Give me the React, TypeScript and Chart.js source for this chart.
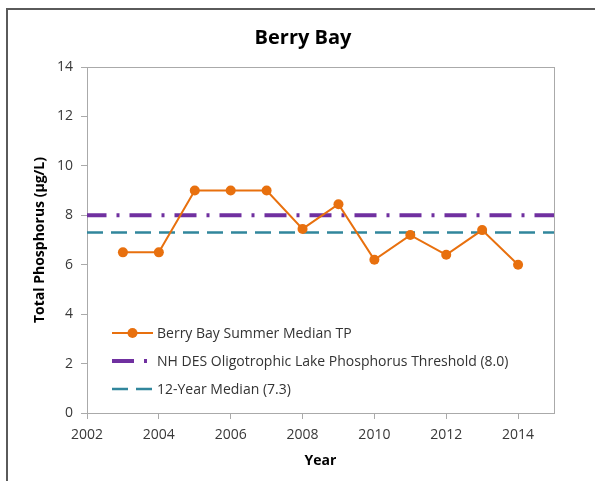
import React, { useEffect, useRef } from "react";
import { Chart, registerables } from "chart.js";

Chart.register(...registerables);

const chartTitle = "Berry Bay";
const xAxisTitle = "Year";
const yAxisTitle = "Total Phosphorus (µg/L)";

const years = [2003, 2004, 2005, 2006, 2007, 2008, 2009, 2010, 2011, 2012, 2013, 2014];
const summerMedianTP = [6.5, 6.5, 9.0, 9.0, 9.0, 7.45, 8.45, 6.2, 7.2, 6.4, 7.4, 6.0];

const thresholdValue = 8.0;
const twelveYearMedianValue = 7.3;

const xMin = 2002;
const xMax = 2015;
const xTickValues = [2002, 2004, 2006, 2008, 2010, 2012, 2014];
const yMin = 0;
const yMax = 14;
const yStep = 2;

const seriesLabels = [
  "Berry Bay Summer Median TP",
  "NH DES Oligotrophic Lake Phosphorus Threshold (8.0)",
  "12-Year Median (7.3)",
];

const FONT = "'Open Sans', 'Noto Sans', sans-serif";
const ORANGE = "#E8700E";
const PURPLE = "#7030A0";
const TEAL = "#31869C";
const FRAME_GRAY = "#AAAAAA";

const plotFramePlugin = {
  id: "plotFrame",
  beforeDatasetsDraw(chart: any) {
    const { ctx, chartArea } = chart;
    ctx.save();
    ctx.strokeStyle = FRAME_GRAY;
    ctx.lineWidth = 1;
    ctx.strokeRect(
      Math.round(chartArea.left) + 0.5,
      Math.round(chartArea.top) + 0.5,
      Math.round(chartArea.right - chartArea.left),
      Math.round(chartArea.bottom - chartArea.top)
    );
    ctx.restore();
  },
};

const insideLegendPlugin = {
  id: "insideLegend",
  afterDraw(chart: any) {
    const { ctx, chartArea } = chart;
    const rowOffsets = [80, 52, 24];
    const x0 = chartArea.left + 25;
    const x1 = chartArea.left + 66;
    ctx.save();
    chart.data.datasets.forEach((ds: any, i: number) => {
      const y = chartArea.bottom - rowOffsets[i];
      ctx.beginPath();
      ctx.strokeStyle = ds.borderColor;
      ctx.lineWidth = ds.borderWidth;
      ctx.lineCap = "butt";
      ctx.setLineDash(ds.borderDash || []);
      ctx.lineDashOffset = 0;
      ctx.moveTo(x0, y);
      ctx.lineTo(x1, y);
      ctx.stroke();
      ctx.setLineDash([]);
      if (ds.pointRadius > 0) {
        ctx.beginPath();
        ctx.fillStyle = ds.pointBackgroundColor;
        ctx.arc((x0 + x1) / 2, y, ds.pointRadius, 0, Math.PI * 2);
        ctx.fill();
      }
      ctx.fillStyle = "#333333";
      ctx.font = `14px ${FONT}`;
      ctx.textAlign = "left";
      ctx.textBaseline = "middle";
      ctx.fillText(ds.label, x1 + 4, y + 1);
    });
    ctx.restore();
  },
};

export default function App() {
  const canvasRef = useRef<HTMLCanvasElement | null>(null);

  useEffect(() => {
    if (!canvasRef.current) return;
    const chart = new Chart(canvasRef.current, {
      type: "line",
      data: {
        datasets: [
          {
            label: seriesLabels[0],
            data: years.map((yr, i) => ({ x: yr, y: summerMedianTP[i] })),
            borderColor: ORANGE,
            backgroundColor: ORANGE,
            pointBackgroundColor: ORANGE,
            pointBorderColor: ORANGE,
            borderWidth: 2,
            pointRadius: 5,
            pointBorderWidth: 0,
            tension: 0,
            order: 0,
          },
          {
            label: seriesLabels[1],
            data: [
              { x: xMin, y: thresholdValue },
              { x: xMax, y: thresholdValue },
            ],
            borderColor: PURPLE,
            backgroundColor: PURPLE,
            borderWidth: 4,
            borderDash: [22, 10, 3, 10],
            borderDashOffset: 2.5,
            borderCapStyle: "butt",
            pointRadius: 0,
            order: 2,
          },
          {
            label: seriesLabels[2],
            data: [
              { x: xMin, y: twelveYearMedianValue },
              { x: xMax, y: twelveYearMedianValue },
            ],
            borderColor: TEAL,
            backgroundColor: TEAL,
            borderWidth: 2.5,
            borderDash: [16, 8],
            borderCapStyle: "butt",
            pointRadius: 0,
            order: 1,
          },
        ],
      } as any,
      options: {
        animation: false,
        responsive: false,
        maintainAspectRatio: false,
        layout: { padding: { top: 0, left: 52, right: 41, bottom: 8 } },
        plugins: {
          legend: { display: false },
          tooltip: { enabled: false },
          title: {
            display: true,
            text: chartTitle,
            color: "#000000",
            font: { family: FONT, size: 20, weight: "bold", lineHeight: 1.2 },
            padding: { top: 26, bottom: 17 },
          },
        },
        scales: {
          x: {
            type: "linear",
            min: xMin,
            max: xMax,
            afterBuildTicks: (scale: any) => {
              scale.ticks = xTickValues.map((v) => ({ value: v }));
            },
            afterFit: (scale: any) => {
              scale.height = 60;
            },
            ticks: {
              color: "#383838",
              font: { family: FONT, size: 14 },
              padding: 8,
              maxRotation: 0,
              autoSkip: false,
              callback: (v: any) => String(v),
            },
            grid: {
              display: true,
              drawOnChartArea: false,
              drawTicks: true,
              tickLength: 6,
              color: FRAME_GRAY,
            },
            border: { display: true, color: FRAME_GRAY },
            title: {
              display: true,
              text: xAxisTitle,
              color: "#000000",
              font: { family: FONT, size: 14, weight: "bold", lineHeight: 1.2 },
              padding: { top: 4, bottom: 4 },
            },
          },
          y: {
            type: "linear",
            min: yMin,
            max: yMax,
            afterFit: (scale: any) => {
              scale.width = 35;
            },
            ticks: {
              stepSize: yStep,
              color: "#383838",
              font: { family: FONT, size: 14 },
              padding: 8,
            },
            grid: {
              display: true,
              drawOnChartArea: false,
              drawTicks: true,
              tickLength: 6,
              color: FRAME_GRAY,
            },
            border: { display: true, color: FRAME_GRAY },
            title: {
              display: true,
              text: yAxisTitle,
              color: "#000000",
              font: { family: FONT, size: 14, weight: "bold", lineHeight: 1.2 },
              padding: { top: -20.4, bottom: 4 },
            },
          },
        },
      } as any,
      plugins: [plotFramePlugin, insideLegendPlugin],
    });
    return () => chart.destroy();
  }, []);

  return (
    <div
      style={{
        position: "fixed",
        left: 0,
        top: 0,
        width: 595,
        height: 481,
        background: "#ffffff",
        overflow: "hidden",
      }}
    >
      <div
        style={{
          position: "absolute",
          left: 6,
          top: 8,
          width: 589,
          height: 473,
          boxSizing: "border-box",
          borderLeft: "2px solid #5A5A5A",
          borderTop: "2px solid #5A5A5A",
        }}
      />
      <canvas
        ref={canvasRef}
        width={595}
        height={481}
        style={{ position: "absolute", left: 0, top: 0, width: 595, height: 481 }}
      />
    </div>
  );
}
